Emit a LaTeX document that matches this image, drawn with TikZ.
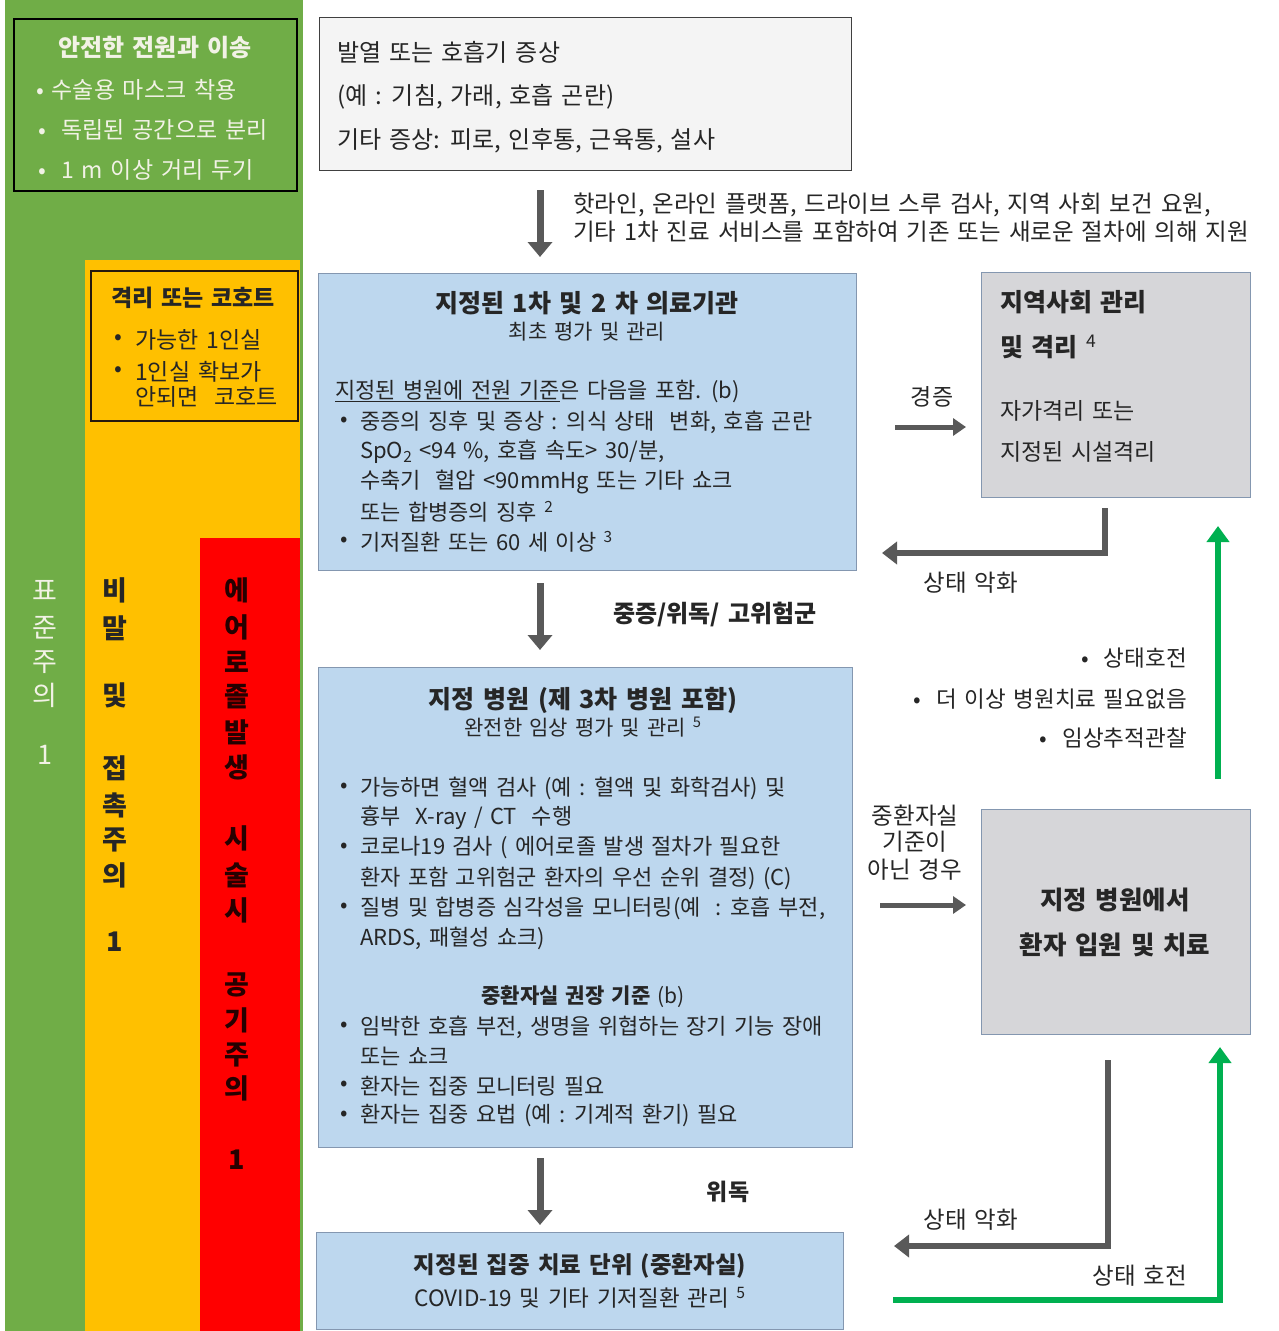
\documentclass[tikz,border=0pt]{standalone}
\usepackage{fontspec}
\setmainfont{Noto Sans CJK KR}[WordSpace=1.5]
\usetikzlibrary{arrows.meta}
\definecolor{cgreen}{HTML}{70AD47}
\definecolor{cgold}{HTML}{FFC000}
\definecolor{cred}{HTML}{FF0000}
\definecolor{cblue}{HTML}{BDD7EE}
\definecolor{cbluebd}{HTML}{8497B0}
\definecolor{cgray}{HTML}{D6D6D9}
\definecolor{ctop}{HTML}{F4F4F4}
\definecolor{agray}{HTML}{595959}
\definecolor{agreen}{HTML}{00B050}
\definecolor{txt}{HTML}{262626}
\definecolor{lighttxt}{HTML}{F2F2E6}
\newcommand{\fsz}[1]{\fontsize{#1}{#1}\selectfont}
\begin{document}
\begin{tikzpicture}[x=1pt,y=-1pt,
  col/.style={inner sep=0, anchor=north west, draw=none},
  box/.style={inner sep=0, anchor=north west, line width=1.3pt},
  t/.style={inner sep=0, anchor=west, text=txt, font=\fsz{22}},
  tc/.style={t, anchor=center},
  tb/.style={tc, font=\fsz{25}\bfseries},
  vt/.style={inner sep=0, anchor=center, font=\fsz{27}\bfseries},
  darr/.style={line width=7pt, draw=agray, -{Triangle[width=24pt,length=15pt]}},
  harr/.style={line width=5pt, draw=agray, -{Triangle[width=17pt,length=13pt]}},
  earr/.style={line width=6pt, draw=agray, -{Triangle[width=22pt,length=15pt]}},
  garr/.style={line width=6pt, draw=agreen, -{Triangle[width=22pt,length=16pt]}}
]
\useasboundingbox (0,0) rectangle (1278,1331);
\fill[white] (0,0) rectangle (1278,1331);

% precaution columns
\node[col, fill=cgreen, minimum width=298pt, minimum height=1331pt] (colg) at (5,0) {};
\node[col, fill=cgold, minimum width=215pt, minimum height=1071pt] (colo) at (85,260) {};
\node[col, fill=cred, minimum width=100pt, minimum height=793pt] (colr) at (200,538) {};

% green box
\node[box, draw=black, line width=1.8pt, fill=cgreen, minimum width=283pt, minimum height=172pt] (gbox) at (13,18) {};
\node[tb, text=lighttxt, font=\fsz{24}\bfseries] (gtitle) at (155,48) {안전한 전원과 이송};
\node[t, text=lighttxt, font=\fsz{23}] (gb1) at (36,90) {• 수술용 마스크 착용};
\node[t, text=lighttxt, font=\fsz{23}] (gb2) at (38,130) {•\ \ 독립된 공간으로 분리};
\node[t, text=lighttxt, font=\fsz{23}] (gb3) at (38,170) {•\ \ 1 m 이상 거리 두기};

% orange box
\node[box, draw=black!80!brown, line width=1.5pt, fill=cgold, minimum width=207pt, minimum height=150pt] (obox) at (90,270) {};
\node[tb, font=\fsz{23}\bfseries] (otitle) at (193,298) {격리 또는 코호트};
\node[t, font=\fsz{23}] (ob1d) at (114,340) {•};
\node[t, font=\fsz{23}] (ob1) at (135,340) {가능한 1인실};
\node[t, font=\fsz{23}] (ob2d) at (114,372) {•};
\node[t, font=\fsz{23}] (ob2) at (135,372) {1인실 확보가};
\node[t, font=\fsz{23}] (ob2b) at (135,397) {안되면\ \ 코호트};

% vertical labels
\foreach \c/\y [count=\i] in {표/590,준/628,주/662,의/695,1/755}
  \node[vt, text=lighttxt, font=\fsz{27}] (va\i) at (45,\y) {\c};
\foreach \c/\y [count=\i] in {비/590,말/628,및/695,접/768,촉/805,주/840,의/875,1/942}
  \node[vt, text=txt] (vb\i) at (115,\y) {\c};
\foreach \c/\y [count=\i] in {에/590,어/627,로/662,졸/697,발/732,생/767,시/838,술/875,시/910,공/985,기/1020,주/1055,의/1088,1/1160}
  \node[vt, text=black!85!red] (vc\i) at (237,\y) {\c};

% top box
\node[box, draw=black!75, fill=ctop, minimum width=532pt, minimum height=153pt] (top) at (319,17) {};
\node[t, font=\fsz{24}] (top1) at (337,52) {발열 또는 호흡기 증상};
\node[t, font=\fsz{24}] (top2) at (337,97) {(예 : 기침, 가래, 호흡 곤란)};
\node[t, font=\fsz{24}] (top3) at (337,141) {기타 증상: 피로, 인후통, 근육통, 설사};

\coordinate (a1s) at (540,190);
\coordinate (a1e) at (540,257);
\draw[darr] (a1s) -- (a1e);
\node[t, font=\fsz{23.5}] (sup1) at (573,205) {핫라인, 온라인 플랫폼, 드라이브 스루 검사, 지역 사회 보건 요원,};
\node[t, font=\fsz{23.5}] (sup2) at (573,232) {기타 1차 진료 서비스를 포함하여 기존 또는 새로운 절차에 의해 지원};

% blue box 1
\node[box, draw=cbluebd, fill=cblue, minimum width=538pt, minimum height=297pt] (blue1) at (318,273) {};
\node[tb] (b1t) at (587,303) {지정된 1차 및 2 차 의료기관};
\node[tc, font=\fsz{21}] (b1s) at (587,332) {최초 평가 및 관리};
\node[t] (b1h) at (335,391) {\underline{지정된 병원에 전원 기준}은 다음을 포함. (b)};
\node[t] (b1d1) at (340,422) {•};
\node[t] (b1l1) at (360,422) {중증의 징후 및 증상 : 의식 상태\ \ 변화, 호흡 곤란};
\node[t] (b1l2) at (360,452) {SpO\textsubscript{2} <94 \%, 호흡 속도> 30/분,};
\node[t] (b1l3) at (360,482) {수축기\ \ 혈압 <90mmHg 또는 기타 쇼크};
\node[t] (b1l4) at (360,512) {또는 합병증의 징후 \textsuperscript{2}};
\node[t] (b1d2) at (340,542) {•};
\node[t] (b1l5) at (360,542) {기저질환 또는 60 세 이상 \textsuperscript{3}};

\coordinate (a2s) at (540,583);
\coordinate (a2e) at (540,650);
\draw[darr] (a2s) -- (a2e);
\node[tb, font=\fsz{24}\bfseries] (sev) at (715,614) {중증/위독/ 고위험군};

% blue box 2
\node[box, draw=cbluebd, fill=cblue, minimum width=534pt, minimum height=480pt] (blue2) at (318,667) {};
\node[tb] (b2t) at (583,700) {지정 병원 (제 3차 병원 포함)};
\node[tc, font=\fsz{21}] (b2s) at (583,727) {완전한 임상 평가 및 관리 \textsuperscript{5}};
\node[t] (b2d1) at (340,788) {•};
\node[t] (b2l1) at (360,788) {가능하면 혈액 검사 (예 : 혈액 및 화학검사) 및};
\node[t] (b2l2) at (360,818) {흉부\ \ X-ray / CT\ \ 수행};
\node[t] (b2d2) at (340,848) {•};
\node[t] (b2l3) at (360,848) {코로나19 검사 ( 에어로졸 발생 절차가 필요한};
\node[t] (b2l4) at (360,878) {환자 포함 고위험군 환자의 우선 순위 결정) (C)};
\node[t] (b2d3) at (340,908) {•};
\node[t] (b2l5) at (360,908) {질병 및 합병증 심각성을 모니터링(예\ \ : 호흡 부전,};
\node[t] (b2l6) at (360,938) {ARDS, 패혈성 쇼크)};
\node[tc, font=\fsz{21}] (b2h) at (583,997) {\textbf{중환자실 권장 기준} (b)};
\node[t] (b2d4) at (340,1027) {•};
\node[t] (b2l7) at (360,1027) {임박한 호흡 부전, 생명을 위협하는 장기 기능 장애};
\node[t] (b2l8) at (360,1056) {또는 쇼크};
\node[t] (b2d5) at (340,1086) {•};
\node[t] (b2l9) at (360,1086) {환자는 집중 모니터링 필요};
\node[t] (b2d6) at (340,1116) {•};
\node[t] (b2l10) at (360,1116) {환자는 집중 요법 (예 : 기계적 환기) 필요};

\coordinate (a3s) at (540,1158);
\coordinate (a3e) at (540,1225);
\draw[darr] (a3s) -- (a3e);
\node[tb, font=\fsz{23}\bfseries] (crit) at (728,1192) {위독};

% blue box 3
\node[box, draw=cbluebd, fill=cblue, minimum width=527pt, minimum height=97pt] (blue3) at (316,1232) {};
\node[tb, font=\fsz{23.5}\bfseries] (b3t) at (580,1266) {지정된 집중 치료 단위 (중환자실)};
\node[tc, font=\fsz{22.5}] (b3s) at (580,1298) {COVID-19 및 기타 기저질환 관리 \textsuperscript{5}};

% gray box 1
\node[box, draw=cbluebd, fill=cgray, minimum width=269pt, minimum height=225pt] (gray1) at (981,272) {};
\node[t, font=\fsz{25}\bfseries] (g1a) at (1000,302) {지역사회 관리};
\node[t, font=\fsz{25}\bfseries] (g1b) at (1000,347) {및 격리 \textsuperscript{\mdseries 4}};
\node[t, font=\fsz{23}] (g1c) at (1000,411) {자가격리 또는};
\node[t, font=\fsz{23}] (g1d) at (1000,452) {지정된 시설격리};

\node[tc, font=\fsz{23}] (mild) at (932,397) {경증};
\coordinate (m1s) at (895,427);
\coordinate (m1e) at (966,427);
\draw[harr] (m1s) -- (m1e);

\coordinate (w1s) at (1105,508);
\coordinate (w1c) at (1105,553);
\coordinate (w1e) at (882,553);
\draw[earr] (w1s) -- (w1c) -- (w1e);
\node[tc, font=\fsz{23.5}] (worse1) at (971,583) {상태 악화};

\coordinate (u1s) at (1218,779);
\coordinate (u1e) at (1218,526);
\draw[garr] (u1s) -- (u1e);
\node[t, anchor=east, font=\fsz{22.5}] (r1) at (1187,658) {•\ \ 상태호전};
\node[t, anchor=east, font=\fsz{22.5}] (r2) at (1187,699) {•\ \ 더 이상 병원치료 필요없음};
\node[t, anchor=east, font=\fsz{22.5}] (r3) at (1187,738) {•\ \ 임상추적관찰};

% gray box 2
\node[box, draw=cbluebd, fill=cgray, minimum width=269pt, minimum height=225pt] (gray2) at (981,809) {};
\node[tb, font=\fsz{25.5}\bfseries] (g2a) at (1115,900) {지정 병원에서};
\node[tb, font=\fsz{25.5}\bfseries] (g2b) at (1115,945) {환자 입원 및 치료};

\node[tc, font=\fsz{23.5}] (nicu1) at (915,816) {중환자실};
\node[tc, font=\fsz{23.5}] (nicu2) at (915,842) {기준이};
\node[tc, font=\fsz{23.5}] (nicu3) at (915,870) {아닌 경우};
\coordinate (m2s) at (880,905);
\coordinate (m2e) at (966,905);
\draw[harr] (m2s) -- (m2e);

\coordinate (w2s) at (1108,1060);
\coordinate (w2c) at (1108,1246);
\coordinate (w2e) at (894,1246);
\draw[earr] (w2s) -- (w2c) -- (w2e);
\node[tc, font=\fsz{23.5}] (worse2) at (971,1220) {상태 악화};

\coordinate (u2s) at (893,1300);
\coordinate (u2c) at (1220,1300);
\coordinate (u2e) at (1220,1047);
\draw[garr] (u2s) -- (u2c) -- (u2e);
\node[tc, font=\fsz{23.5}] (better) at (1140,1276) {상태 호전};

\end{tikzpicture}
\end{document}
